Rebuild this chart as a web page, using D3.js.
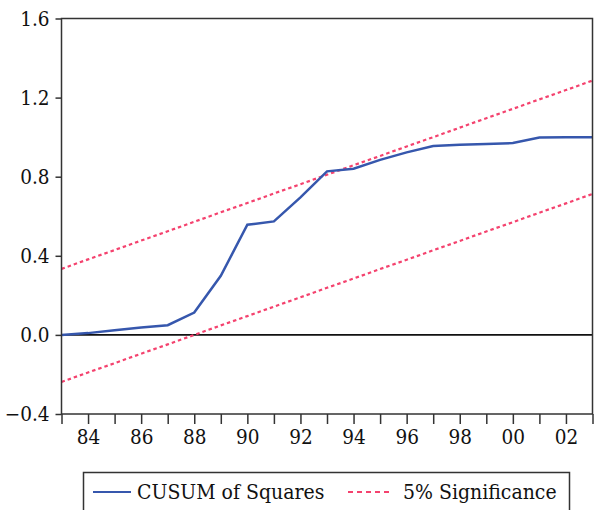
<!DOCTYPE html>
<html>
<head>
<meta charset="utf-8">
<script src="https://cdn.jsdelivr.net/npm/d3@7"></script>
<style>
  body { margin: 0; background: #fff; }
  svg { display: block; }
</style>
</head>
<body>
<svg></svg>
<script>
var years = [1983, 1984, 1985, 1986, 1987, 1988, 1989, 1990, 1991, 1992, 1993,
  1994, 1995, 1996, 1997, 1998, 1999, 2000, 2001, 2002, 2003];
var cusumSq = [0.000, 0.009, 0.024, 0.037, 0.049, 0.113, 0.299, 0.557, 0.574, 0.695, 0.827,
  0.840, 0.885, 0.923, 0.955, 0.962, 0.965, 0.970, 0.998, 1.000, 1.000];
var upper = [0.334, 0.382, 0.429, 0.477, 0.524, 0.572, 0.620, 0.667, 0.715, 0.762, 0.810,
  0.858, 0.905, 0.953, 1.000, 1.048, 1.096, 1.143, 1.191, 1.238, 1.286];
var lower = [-0.238, -0.190, -0.143, -0.095, -0.048, 0.000, 0.048, 0.095, 0.143, 0.190, 0.238,
  0.285, 0.333, 0.380, 0.428, 0.475, 0.523, 0.570, 0.618, 0.665, 0.713];
var yTicks = [-0.4, 0.0, 0.4, 0.8, 1.2, 1.6];
var legendLabels = ['CUSUM of Squares', '5% Significance'];

var margin = {
  top: 18.5,
  right: 3.5,
  bottom: 96,
  left: 61.5
};
var width = 596 - margin.left - margin.right;
var height = 510 - margin.top - margin.bottom;
var serif = "'DejaVu Serif Condensed', 'DejaVu Serif', serif";

var svg = d3.select('svg')
  .attr('width', 596)
  .attr('height', 510);
var g = svg.append('g')
  .attr('transform', 'translate(' + margin.left + ',' + margin.top + ')');

var scaleX = d3.scaleLinear()
  .domain([1983, 2003])
  .range([0, width]);
var scaleY = d3.scaleLinear()
  .domain([-0.4, 1.6])
  .range([height, 0]);

function line(values) {
  return d3.line()
    .x(function(d, i) { return scaleX(years[i]); })
    .y(function(d) { return scaleY(d); })(values);
}

// zero line
g.append('line')
  .attr('x1', 0)
  .attr('x2', width)
  .attr('y1', scaleY(0))
  .attr('y2', scaleY(0))
  .attr('stroke', '#111')
  .attr('stroke-width', 1.6);

[upper, lower].forEach(function(values) {
  g.append('path')
    .attr('d', line(values))
    .attr('fill', 'none')
    .attr('stroke', '#f4426e')
    .attr('stroke-width', 2.2)
    .attr('stroke-dasharray', '3.5,3');
});

g.append('path')
  .attr('d', line(cusumSq))
  .attr('fill', 'none')
  .attr('stroke', '#3657ad')
  .attr('stroke-width', 2.5);

// frame
g.append('rect')
  .attr('width', width)
  .attr('height', height)
  .attr('fill', 'none')
  .attr('stroke', '#333')
  .attr('stroke-width', 1.5);

var xAxis = d3.axisBottom(scaleX)
  .tickValues(years)
  .tickSize(10)
  .tickPadding(5)
  .tickFormat(function(y) {
    return y % 2 === 0 ? d3.format('02d')(y % 100) : '';
  });

var yAxis = d3.axisLeft(scaleY)
  .tickValues(yTicks)
  .tickSize(6)
  .tickPadding(6)
  .tickFormat(d3.format('.1f'));

function styleText(sel, size) {
  sel.style('font-family', serif)
    .style('font-stretch', 'condensed')
    .style('font-size', size + 'px')
    .attr('fill', '#111');
}

function styleAxis(a) {
  a.attr('font-family', null).attr('font-size', null);
  a.select('.domain').remove();
  a.selectAll('line').attr('stroke', '#333').attr('stroke-width', 1.5);
  a.selectAll('text').call(styleText, 20.5);
}

g.append('g')
  .attr('class', 'axis x-axis')
  .attr('transform', 'translate(0,' + height + ')')
  .call(xAxis)
  .call(styleAxis);

g.append('g')
  .attr('class', 'axis y-axis')
  .call(yAxis)
  .call(styleAxis);

// legend
var legend = svg.append('g').attr('class', 'legend');
legend.append('rect')
  .attr('x', 83.5)
  .attr('y', 472.5)
  .attr('width', 486)
  .attr('height', 44)
  .attr('fill', '#fff')
  .attr('stroke', '#333')
  .attr('stroke-width', 1.5);

legend.append('line')
  .attr('x1', 93).attr('x2', 131)
  .attr('y1', 492).attr('y2', 492)
  .attr('stroke', '#3657ad')
  .attr('stroke-width', 2);
legend.append('text')
  .attr('x', 137)
  .attr('y', 499)
  .call(styleText, 21)
  .text(legendLabels[0]);

legend.append('line')
  .attr('x1', 348).attr('x2', 390)
  .attr('y1', 492).attr('y2', 492)
  .attr('stroke', '#f4426e')
  .attr('stroke-width', 1.8)
  .attr('stroke-dasharray', '5,4');
legend.append('text')
  .attr('x', 403)
  .attr('y', 499)
  .call(styleText, 21)
  .text(legendLabels[1]);
</script>
</body>
</html>
